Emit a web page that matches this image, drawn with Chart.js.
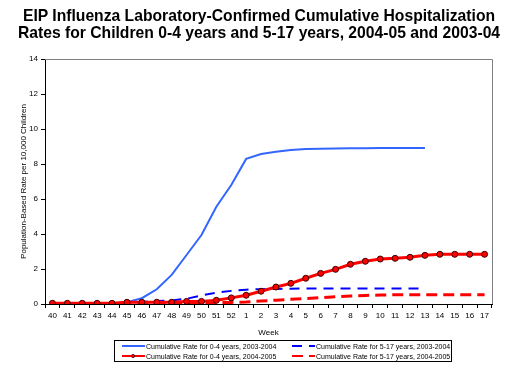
<!DOCTYPE html>
<html>
<head>
<meta charset="utf-8">
<script src="https://cdn.jsdelivr.net/npm/chart.js@4.4.1/dist/chart.umd.min.js"></script>
<style>
  html, body { margin: 0; padding: 0; background: #fff; }
  #wrap { position: relative; width: 516px; height: 384px; overflow: hidden; }
  #title {
    position: absolute; left: 0; top: 7px; width: 518px; text-align: center;
    font: bold 15.7px/17px Arial, "Liberation Sans", sans-serif; color: #000; white-space: nowrap;
  }
  /* legend box under the chart, 2 x 2 grid */
  #legend {
    position: absolute; left: 114px; top: 340px; width: 338px; height: 22px;
    border: 1px solid #000; box-sizing: border-box;
    display: grid; grid-template-columns: 170px 168px; align-content: center;
    font: 7px Arial, "Liberation Sans", sans-serif; color: #000;
  }
  .lg-item { display: flex; align-items: center; height: 10px; padding-left: 7px; white-space: nowrap; }
  .lg-item svg { margin-right: 1px; flex: none; }
</style>
</head>
<body>
<div id="wrap">
  <canvas id="chart" width="516" height="384"></canvas>
  <div id="title"></div>
  <div id="legend"></div>
</div>
<script>
/* ── DATA ── */
const weeks = ['40','41','42','43','44','45','46','47','48','49','50','51','52',
               '1','2','3','4','5','6','7','8','9','10','11','12','13','14','15','16','17'];

// 0-4 years, 2003-2004 (ends at week 13)
const rate04_0304  = [0, 0, 0, 0, 0.02, 0.1, 0.33, 0.84, 1.66, 2.8, 3.94, 5.56, 6.8,
                      8.29, 8.57, 8.7, 8.8, 8.86, 8.87, 8.88, 8.9, 8.9, 8.91, 8.91, 8.91, 8.91,
                      null, null, null, null];
// 5-17 years, 2003-2004 (ends at week 13)
const rate517_0304 = [0.01, 0.01, 0.02, 0.03, 0.05, 0.08, 0.12, 0.17, 0.2, 0.3, 0.49, 0.64, 0.75,
                      0.82, 0.85, 0.86, 0.87, 0.89, 0.89, 0.89, 0.89, 0.89, 0.89, 0.89, 0.89, 0.89,
                      null, null, null, null];
// 0-4 years, 2004-2005
const rate04_0405  = [0.04, 0.04, 0.04, 0.04, 0.04, 0.1, 0.1, 0.1, 0.1, 0.15, 0.15, 0.21, 0.35,
                      0.5, 0.73, 0.97, 1.18, 1.47, 1.75, 1.98, 2.27, 2.44, 2.57, 2.61, 2.67, 2.78,
                      2.84, 2.84, 2.84, 2.84];
// 5-17 years, 2004-2005
const rate517_0405 = [0, 0, 0, 0.01, 0.01, 0.02, 0.03, 0.04, 0.05, 0.06, 0.07, 0.08, 0.09,
                      0.12, 0.17, 0.22, 0.27, 0.31, 0.36, 0.42, 0.46, 0.49, 0.51, 0.53, 0.53, 0.53,
                      0.53, 0.53, 0.53, 0.53];

const yTicks = [0, 2, 4, 6, 8, 10, 12, 14];

const titleLines = [
  'EIP Influenza Laboratory-Confirmed Cumulative Hospitalization',
  'Rates for Children 0-4 years and 5-17 years, 2004-05 and 2003-04'
];

const FONT = 'Arial, "Liberation Sans", sans-serif';

/* ── gray frame on top / right of the plot area ── */
const framePlugin = {
  id: 'frame',
  beforeDatasetsDraw(chart) {
    const { ctx, chartArea: a } = chart;
    ctx.save();
    ctx.strokeStyle = '#808080';
    ctx.lineWidth = 1;
    ctx.beginPath();
    ctx.moveTo(a.left, a.top + 0.5);
    ctx.lineTo(a.right + 0.5, a.top + 0.5);
    ctx.lineTo(a.right + 0.5, a.bottom);
    ctx.stroke();
    ctx.restore();
  }
};

const chart = new Chart(document.getElementById('chart'), {
  type: 'line',
  data: {
    labels: weeks,
    datasets: [
      { label: 'Cumulative Rate for 0-4 years, 2003-2004', data: rate04_0304,
        borderColor: '#3366ff', borderWidth: 2, pointRadius: 0, order: 2 },
      { label: 'Cumulative Rate for 5-17 years, 2003-2004', data: rate517_0304,
        borderColor: '#0000ff', borderWidth: 2, borderDash: [10, 7], pointRadius: 0, order: 3 },
      { label: 'Cumulative Rate for 0-4 years, 2004-2005', data: rate04_0405,
        borderColor: '#ff0000', borderWidth: 3, pointRadius: 3,
        pointBackgroundColor: '#ff0000', pointBorderColor: '#3a0000', pointBorderWidth: 1, order: 0 },
      { label: 'Cumulative Rate for 5-17 years, 2004-2005', data: rate517_0405,
        borderColor: '#ff0000', borderWidth: 3, borderDash: [11, 6], pointRadius: 0, order: 1 },
    ],
  },
  options: {
    responsive: false,
    animation: false,
    layout: { padding: { left: 0, right: 24, top: 59, bottom: 46 } },
    plugins: {
      legend: { display: false },
      tooltip: { enabled: false },
      title: { display: false },
    },
    scales: {
      x: {
        offset: true,
        grid: { display: true, drawOnChartArea: false, offset: true, tickLength: 4, color: '#000' },
        border: { color: '#000' },
        ticks: { font: { family: FONT, size: 8 }, color: '#000', maxRotation: 0, autoSkip: false, padding: 3 },
        title: { display: true, text: 'Week', color: '#000', font: { family: FONT, size: 8 }, padding: { top: 1, bottom: 0 } },
        afterFit: s => { s.height = 34; },
      },
      y: {
        min: 0, max: 14,
        afterBuildTicks: s => { s.ticks = yTicks.map(v => ({ value: v })); },
        grid: { drawOnChartArea: false, tickLength: 4, color: '#000' },
        border: { color: '#000' },
        ticks: { font: { family: FONT, size: 8 }, color: '#000', padding: 3 },
        title: { display: true, text: 'Population-Based Rate per 10,000 Children', color: '#000',
                 font: { family: FONT, size: 8 }, padding: { top: 19, bottom: 0 } },
        afterFit: s => { s.width = 45; },
      },
    },
  },
  plugins: [framePlugin],
});

/* ── HTML title ── */
document.getElementById('title').innerHTML = titleLines.join('<br>');

/* ── HTML legend, built from the datasets ── */
const legendEl = document.getElementById('legend');
[0, 1, 2, 3].forEach(i => {
  const ds = chart.data.datasets[i];
  const dash = ds.borderDash ? `stroke-dasharray="${ds.borderDash.join(' ')}"` : '';
  const dot = ds.pointRadius ? `<circle cx="11" cy="3" r="1.6" fill="${ds.pointBackgroundColor}" stroke="${ds.pointBorderColor}" stroke-width="0.8"/>` : '';
  const item = document.createElement('div');
  item.className = 'lg-item';
  item.innerHTML = `<svg width="23" height="6"><line x1="0" y1="3" x2="23" y2="3" stroke="${ds.borderColor}" stroke-width="2" ${dash}/>${dot}</svg><span>${ds.label}</span>`;
  legendEl.appendChild(item);
});
</script>
</body>
</html>
